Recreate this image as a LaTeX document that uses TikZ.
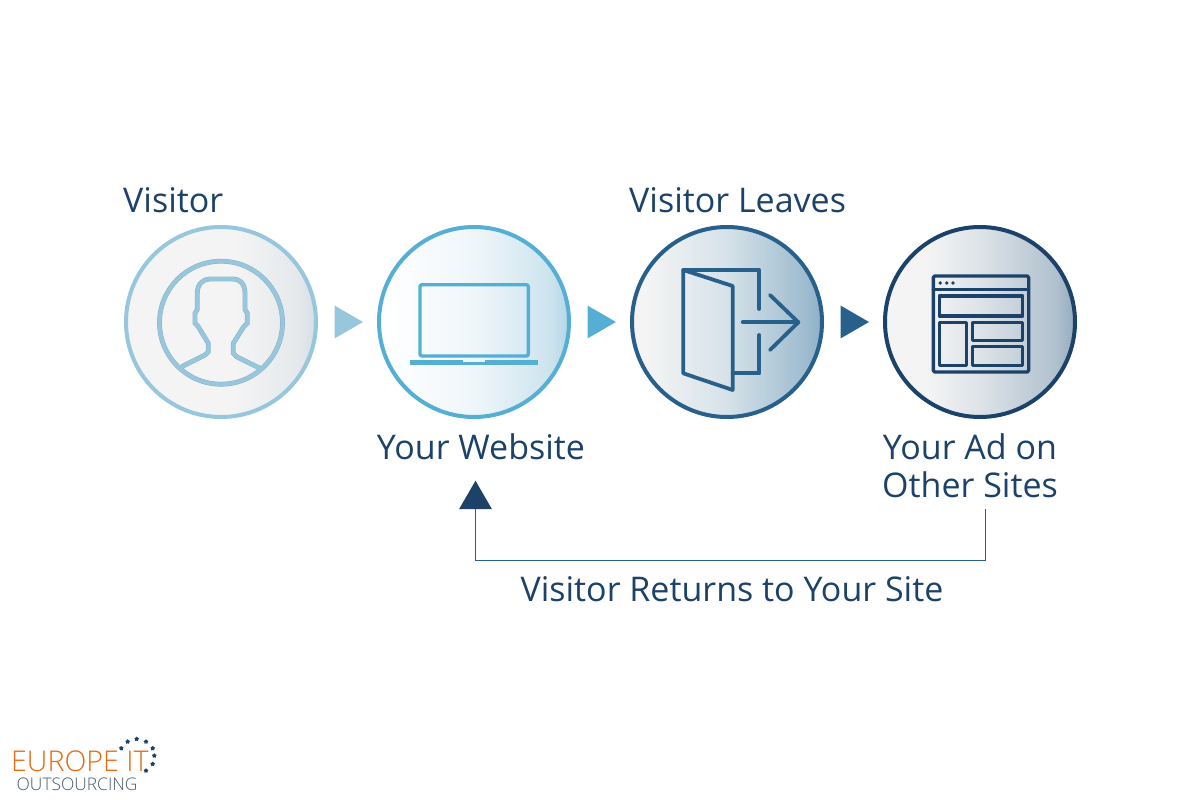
\documentclass[tikz,border=0pt]{standalone}
\usepackage{fontspec}
\setmainfont{Open Sans}
\newfontfamily\logofont{Open Sans Light}
\usetikzlibrary{positioning,shapes.geometric}
\definecolor{paleblue}{HTML}{97C7DC}
\definecolor{skyblue}{HTML}{55AFD4}
\definecolor{midblue}{HTML}{27608A}
\definecolor{navy}{HTML}{1C4269}
\definecolor{logoorange}{HTML}{E36C12}
\definecolor{logogray}{HTML}{4A5A6A}
\definecolor{fadegray}{HTML}{F4F4F4}
\definecolor{outline}{HTML}{8FB0C6}
\definecolor{visitorB}{HTML}{E5E9EC}
\definecolor{visitorC}{HTML}{B8C9D5}
\definecolor{websiteA}{HTML}{EFF6FA}
\definecolor{websiteB}{HTML}{CDE4EE}
\definecolor{websiteC}{HTML}{7FBAD5}
\definecolor{leavesA}{HTML}{D6E2E9}
\definecolor{leavesB}{HTML}{9DBBCF}
\definecolor{leavesC}{HTML}{6494B2}
\definecolor{adA}{HTML}{DDE3E8}
\definecolor{adB}{HTML}{B0C1CE}
\definecolor{adC}{HTML}{5F7F9A}
\pgfdeclarehorizontalshading{fadevisitor}{100bp}{color(0bp)=(fadegray); color(53bp)=(fadegray); color(70bp)=(visitorB); color(85bp)=(visitorC); color(100bp)=(visitorC)}
\pgfdeclarehorizontalshading{fadewebsite}{100bp}{color(0bp)=(white); color(26bp)=(white); color(50bp)=(websiteA); color(70bp)=(websiteB); color(85bp)=(websiteC); color(100bp)=(websiteC)}
\pgfdeclarehorizontalshading{fadeleaves}{100bp}{color(0bp)=(fadegray); color(29bp)=(fadegray); color(50bp)=(leavesA); color(71bp)=(leavesB); color(85bp)=(leavesC); color(100bp)=(leavesC)}
\pgfdeclarehorizontalshading{fadead}{100bp}{color(0bp)=(fadegray); color(36bp)=(fadegray); color(50bp)=(adA); color(70bp)=(adB); color(85bp)=(adC); color(100bp)=(adC)}
\tikzset{
    stage/.style={circle, draw=#1, line width=4pt, minimum size=190pt, inner sep=0pt, outer sep=0pt},
    pointer/.style={regular polygon, regular polygon sides=3, fill=#1, minimum size=38pt, inner sep=0pt, outer sep=0pt},
    caption/.style={font=\fontsize{34}{38}\selectfont, text=navy, inner sep=0pt, align=center},
    icon/.style={draw=#1, line width=3.8pt, line join=round, line cap=round}
}

\begin{document}
\begin{tikzpicture}[x=1pt, y=-1pt, node distance=63pt]
    \useasboundingbox (0,0) rectangle (1200,800);

    \node (visitor) at (221,322) [stage=paleblue, shading=fadevisitor] {};
    \node (website) [stage=skyblue, shading=fadewebsite, right=of visitor] {};
    \node (leaves) [stage=midblue, shading=fadeleaves, right=of website] {};
    \node (adsite) [stage=navy, shading=fadead, right=of leaves] {};

    \node (step1) at (344,322) [pointer=paleblue, shape border rotate=-90] {};
    \node (step2) at (597,322) [pointer=skyblue, shape border rotate=-90] {};
    \node (step3) at (850,322) [pointer=midblue, shape border rotate=-90] {};
    \node (back) at (475.5,499.7) [pointer=navy] {};

    \node (visitortext) at (123,212) [caption, anchor=base west] {Visitor};
    \node (websitetext) at (481,459) [caption, anchor=base] {Your Website};
    \node (leavestext) at (629,212) [caption, anchor=base west] {Visitor Leaves};
    \node (adtext) at (970,497) [caption, anchor=base] {Your Ad on\\Other Sites};
    \node (returntext) at (732,601) [caption, anchor=base] {Visitor Returns to Your Site};

    \coordinate (adfoot) at (985.5,509);
    \draw[midblue, line width=1pt] (adfoot) -- ++(0,51) -| (back.south);

    % person
    \draw[draw=outline, line width=.5pt, double=paleblue, double distance=3.8pt]
        (221,322.7) circle (61.5)
        (181.7,366.7) -- (205,355) -- (208.3,351.7) -- (208.3,343.3) -- (198.3,326.7) -- (195,323.3)
        -- (195,313.3) -- (197.3,309.3) -- (197.3,293.3)
        .. controls (197.3,284) and (203,279) .. (210,279) -- (233.3,279)
        .. controls (240,279) and (245,284) .. (245,293.3)
        -- (245,309.3) -- (247.3,313.3) -- (247.3,323.3) -- (243.3,327.3) -- (233.3,343.3)
        -- (233.3,353.3) -- (236.7,356.7) -- (260,368.3);

    % laptop
    \draw[icon=skyblue, line width=3.4pt, rounded corners=2pt] (420,284.7) rectangle (528.3,356);
    \fill[skyblue] (410,360) rectangle (537.7,364.7);
    \fill[white!90!skyblue] (463.3,360) rectangle (485,361.7);

    % door
    \draw[icon=midblue] (683.3,270) -- (732.7,286) -- (732.7,390) -- (683.3,373.3) -- cycle;
    \draw[icon=midblue] (759.3,309) -- (759.3,270) -- (683.3,270);
    \draw[icon=midblue] (759.3,335) -- (759.3,373.3) -- (732.7,373.3);
    \draw[icon=midblue] (742.7,322.3) -- (798.3,322.3);
    \draw[icon=midblue] (770,295) -- (798.3,322.3) -- (770,350);

    % page
    \draw[icon=navy, line width=3.4pt, rounded corners=1.5pt] (933.3,276) rectangle (1028.7,372);
    \draw[icon=navy, line width=3.4pt] (933.3,289.3) -- (1028.7,289.3);
    \foreach \dotx in {940.3,946.7,953} {
        \fill[navy] (\dotx,283) circle (1.9);
    }
    \draw[icon=navy, line width=3.4pt] (939.3,296) rectangle (1022.7,316);
    \draw[icon=navy, line width=3.4pt] (939.3,322.7) rectangle (966.7,365.3);
    \draw[icon=navy, line width=3.4pt] (972.7,322.7) rectangle (1022.7,340.7);
    \draw[icon=navy, line width=3.4pt] (972.7,346.7) rectangle (1022.7,365.3);

    % logo
    \node (europe) at (11,771) [anchor=base west, inner sep=0pt, text=logoorange, font=\logofont\fontsize{28.6}{30}\selectfont] {EUROPE IT};
    \node (outsourcing) at (16.5,790) [anchor=base west, inner sep=0pt, text=logogray, font=\logofont\fontsize{17.4}{20}\selectfont] {OUTSOURCING};
    \foreach \starx/\stary [count=\i] in {121.3/748.3,127.7/741.7,136.7/739,146/741.7,152.7/748.3,154.3/755.7,152.7/764,146/770.7} {
        \node (star\i) at (\starx,\stary) [star, star points=5, fill=navy, minimum size=5pt, inner sep=0pt] {};
    }
\end{tikzpicture}
\end{document}
